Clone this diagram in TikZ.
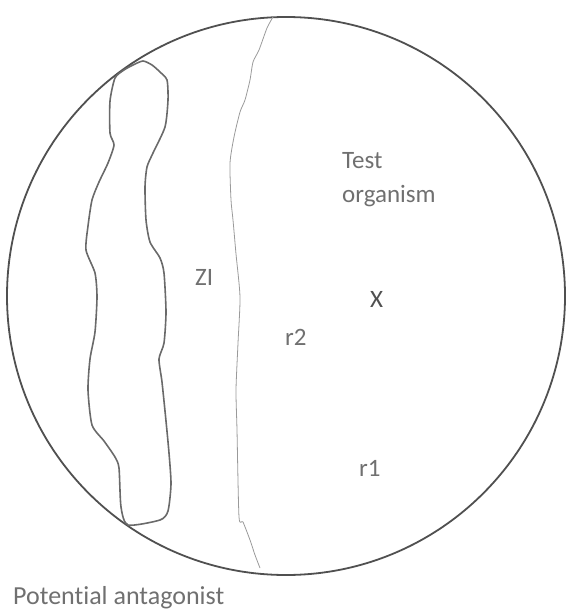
\documentclass[tikz,border=0pt]{standalone}
\usepackage{fontspec}
\setmainfont{Carlito}[Ligatures=NoCommon]
\definecolor{rimgray}{HTML}{505050}
\definecolor{inkgray}{HTML}{6A6A6A}
\definecolor{zonegray}{HTML}{9A9A9A}
\definecolor{textgray}{HTML}{707070}

\begin{document}
\begin{tikzpicture}[
  x=1pt, y=-1pt,
  plate/.style={draw=rimgray, line width=1.8pt},
  colony/.style={draw=inkgray, line width=1.6pt, line join=round},
  zone/.style={draw=zonegray, line width=0.8pt, line join=round},
  lbl/.style={anchor=base west, inner sep=0pt, text=textgray, font=\fontsize{25}{34}\selectfont},
]
\useasboundingbox (0,0) rectangle (565,612);

% === PETRI PLATE ===
\draw[plate] (286,296) circle (279pt);

% === POTENTIAL ANTAGONIST STREAK ===
\draw[colony] plot[smooth cycle, tension=0.4] coordinates {
  (115,78) (124,70) (133,65) (143,61) (152,65) (160,72) (167,80) (168,100) (165,127)
  (153,153) (147,167) (145,187) (146,220) (150,242) (160,258) (164,273)
  (166,312) (164,343) (159,359) (162,382) (166,421) (169,453) (171,484)
  (168,511) (160,520) (128,525)
  (121,507) (119,468) (115,457) (104,441) (92,425) (88,390) (90,359)
  (95,332) (97,297) (95,273) (86,250) (88,226) (92,200) (99,182)
  (108,163) (114,145) (110,133) (110,101)};

% === EDGE OF INHIBITION ZONE ===
\draw[zone] plot[smooth, tension=0.4] coordinates {
  (273,17) (267,28) (259,50) (253,62) (250,80) (245,100) (240,112)
  (234,137) (230,163) (231,200) (233,220) (236,254) (240,297) (238,343)
  (236,390) (237,430) (239,517) (243,522) (250,540) (255,555) (260,568)};

% === LABELS ===
\node[lbl, align=left] (test) at (342,203) {Test\\organism};
\node[lbl] (zi) at (195,285) {ZI};
\node[lbl, text=rimgray] (mark) at (370,307) {X};
\node[lbl] (rtwo) at (285,345) {r2};
\node[lbl] (rone) at (359,476) {r1};
\node[lbl, font=\fontsize{26}{30}\selectfont] (antag) at (13,604) {Potential antagonist};
\end{tikzpicture}
\end{document}
